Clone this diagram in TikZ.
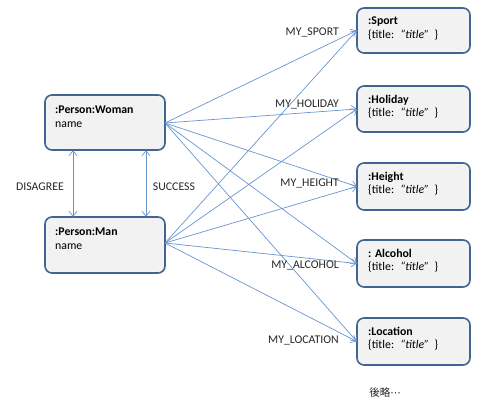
\documentclass[tikz,border=0pt]{standalone}
\usepackage{fontspec}
\setmainfont{Carlito}
\newfontfamily\cjk{Noto Sans CJK JP}
\newfontfamily\symf{DejaVu Sans}
\usetikzlibrary{arrows.meta}
\definecolor{boxborder}{RGB}{65,100,145}
\definecolor{boxfill}{RGB}{242,242,242}
\definecolor{linkcol}{RGB}{105,148,210}
\begin{document}
\begin{tikzpicture}[x=1pt,y=-1pt,
  every node/.style={font=\fontsize{11.8}{13}\selectfont, inner sep=0pt},
  objbox/.style={draw=boxborder, line width=1.6pt, fill=boxfill, rounded corners=7pt, inner sep=0pt},
  link/.style={draw=linkcol, line width=0.7pt, -{Straight Barb[length=5pt,width=8pt]}},
  dlink/.style={draw=linkcol, line width=0.7pt, {Straight Barb[length=5pt,width=8pt]}-{Straight Barb[length=5pt,width=8pt]}},
  lbl/.style={text=black!85},
  ]
\useasboundingbox (0,0) rectangle (495,404);
% left boxes
\draw[objbox] (45,95) rectangle (165,150);
\node (woman) at (105,122.5) [minimum width=120pt, minimum height=55pt] {};
\node[anchor=base west] (wt1) at (55,113) {\bfseries :Person:Woman};
\node[anchor=base west] (wt2) at (55,127) {name};
\draw[objbox] (45,217) rectangle (165,273);
\node (man) at (105,245) [minimum width=120pt, minimum height=56pt] {};
\node[anchor=base west] (mt1) at (55,235) {\bfseries :Person:Man};
\node[anchor=base west] (mt2) at (55,249) {name};
% right boxes
\foreach \n/\t/\ya/\yb in {sport/:Sport/8/53, holiday/:Holiday/86/132, height/:Height/163/210, alcohol/: Alcohol/240/287, location/:Location/318/365}{
  \draw[objbox] (357,\ya) rectangle (470,\yb);
  \node (\n) at (413.5,{(\ya+\yb)/2}) [minimum width=113pt, minimum height={\yb-\ya}] {};
  \node[anchor=base west] (\n t1) at (368,\ya+17) {\bfseries \t};
  \node[anchor=base west] (\n t2) at (368,\ya+30.5) {\{title:~ \textit{“title”}~ \}};
}
% coordinates
\coordinate (wo) at (165,123);
\coordinate (mo) at (165,243);
% links
\foreach \n in {sport,holiday,height,alcohol,location}{
  \draw[link] (wo) -- (\n.west);
  \draw[link] (mo) -- (\n.west);
}
\draw[dlink] (woman.south -| 73,0) -- (man.north -| 73,0);
\draw[dlink] (woman.south -| 146,0) -- (man.north -| 146,0);
% labels
\node[lbl] (ldis) at (40,187) {DISAGREE};
\node[lbl] (lsuc) at (174,187) {SUCCESS};
\node[lbl,anchor=east] (l1) at (339,32) {MY\_SPORT};
\node[lbl,anchor=east] (l2) at (339,104) {MY\_HOLIDAY};
\node[lbl,anchor=east] (l3) at (339,183) {MY\_HEIGHT};
\node[lbl,anchor=east] (l4) at (339,265) {MY\_ALCOHOL};
\node[lbl,anchor=east] (l5) at (339,340) {MY\_LOCATION};
\node[lbl] (omit) at (385,393) {\fontsize{10.5}{12}\selectfont{\cjk 後略}{\symf ⋯}};
\end{tikzpicture}
\end{document}
